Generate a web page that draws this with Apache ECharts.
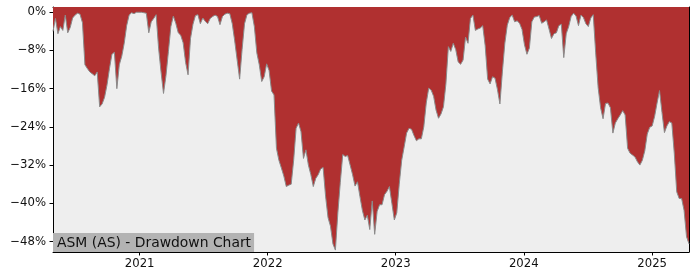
<!DOCTYPE html>
<html><head><meta charset="utf-8">
<script src="https://cdn.jsdelivr.net/npm/echarts@6/dist/echarts.min.js"></script>
<style>html,body{margin:0;padding:0;background:#fff}#c{width:700px;height:280px}</style>
</head><body><div id="c"></div>
<script>
// Weekly drawdown (%), starting 2020-04-29
const startDate = '2020-04-29';
const stepDays = 7;
const drawdown = [
-4.0,-1.3,-4.5,-3.0,-3.8,-0.6,-4.3,-3.2,-1.2,-0.6,
-0.2,-0.4,-2.2,-11.0,-11.8,-12.5,-12.9,-13.3,-12.5,-19.8,
-19.2,-17.8,-15.2,-11.8,-8.8,-8.4,-16.0,-11.0,-9.2,-6.5,
-2.8,-0.6,-0.1,-0.3,0,0,0,-0.1,-0.2,-4.3,
-2.0,-1.3,-0.5,-7.5,-12.5,-17.0,-13.3,-8.2,-3.0,-0.8,
-2.3,-4.3,-4.8,-6.4,-10.5,-13.1,-5.5,-2.5,-0.7,-0.5,
-2.4,-1.2,-1.9,-2.4,-1.3,-0.9,-0.6,-0.9,-2.6,-0.9,
-0.4,-0.2,-0.3,-2.4,-6.0,-10.0,-14.0,-7.8,-2.4,-0.5,
-0.2,-0.1,-3.0,-8.5,-11.0,-14.5,-13.5,-10.8,-12.2,-16.5,
-17.3,-28.5,-31.0,-32.6,-34.3,-36.5,-36.2,-36.0,-31.0,-24.3,
-23.2,-25.0,-30.6,-28.8,-32.0,-34.0,-36.5,-34.8,-34.0,-32.8,
-32.5,-38.5,-43.0,-44.8,-48.5,-49.8,-42.0,-35.6,-29.8,-30.2,
-30.0,-32.0,-34.0,-36.4,-35.5,-38.6,-41.5,-43.5,-42.5,-45.5,
-39.5,-46.5,-41.7,-40.3,-40.3,-38.2,-37.5,-36.5,-40.0,-43.5,
-42.0,-36.0,-31.0,-28.2,-25.3,-24.3,-24.5,-25.8,-26.9,-26.5,
-26.5,-24.0,-19.0,-15.9,-16.3,-17.6,-20.5,-22.2,-21.3,-19.8,
-15.0,-7.2,-8.2,-6.5,-7.8,-10.4,-10.9,-10.0,-5.2,-6.5,
-1.3,-0.6,-3.8,-3.5,-3.3,-2.8,-7.0,-14.0,-15.0,-13.5,
-13.8,-16.2,-19.2,-12.5,-6.5,-2.7,-1.1,-0.6,-2.0,-1.8,
-2.3,-3.6,-6.8,-8.8,-7.5,-2.0,-1.0,-0.9,-0.7,-2.3,
-2.0,-1.6,-3.5,-5.5,-4.5,-4.3,-2.8,-2.5,-9.5,-4.5,
-3.0,-0.9,-0.2,-0.8,-2.8,-0.6,-1.1,-2.4,-3.0,-1.2,
-0.5,-8.5,-15.8,-20.0,-22.3,-19.1,-19.0,-20.0,-25.3,-23.2,
-22.3,-21.5,-20.6,-21.5,-28.5,-29.5,-29.9,-30.3,-31.3,-32.0,
-31.0,-29.0,-25.5,-24.1,-23.8,-21.8,-19.0,-16.4,-21.0,-25.2,
-23.8,-22.9,-23.2,-29.5,-37.6,-39.0,-39.0,-41.5,-47.0,-48.5
];
const yTicks = [0,-8,-16,-24,-32,-40,-48];
const yearTicks = ['2021-01-01','2022-01-01','2023-01-01','2024-01-01','2025-01-01'];
const titleText = 'ASM (AS) - Drawdown Chart';

const DAY = 86400000;
const t0 = Date.parse(startDate + 'T00:00:00Z');
const seriesData = drawdown.map((v, i) => [t0 + i * stepDays * DAY, v]);
const xMin = seriesData[0][0];
const xMax = seriesData[seriesData.length - 1][0];
const yearVals = yearTicks.map(d => Date.parse(d + 'T00:00:00Z'));
const yMin = -50.2, yMax = 1.1;
const font = 'DejaVu Sans';

const chart = echarts.init(document.getElementById('c'), null, {renderer: 'canvas'});
chart.setOption({
  animation: false,
  backgroundColor: '#ffffff',
  title: {
    text: titleText,
    left: 53, bottom: 28,
    backgroundColor: '#b3b3b3',
    padding: [3, 3, 2, 4],
    textStyle: {fontFamily: font, fontSize: 13.9, fontWeight: 'normal', color: '#111', lineHeight: 14}
  },
  grid: {left: 53, right: 11, top: 7, bottom: 28, show: true, backgroundColor: '#eeeeee', borderWidth: 0, outerBoundsMode: 'none', containLabel: false},
  xAxis: [{
    type: 'value', min: xMin, max: xMax, position: 'bottom',
    axisLine: {show: true, onZero: false, lineStyle: {color: '#000', width: 1}},
    axisTick: {show: true, length: 3.5, lineStyle: {color: '#000'}, customValues: yearVals},
    axisLabel: {show: true, customValues: yearVals, fontFamily: font, fontSize: 11.7, color: '#111', margin: 6,
      formatter: v => String(new Date(v).getUTCFullYear())},
    splitLine: {show: false}
  }, {
    type: 'value', min: xMin, max: xMax, position: 'top',
    axisLine: {show: true, onZero: false, lineStyle: {color: '#000', width: 1}},
    axisTick: {show: false}, axisLabel: {show: false}, splitLine: {show: false}
  }],
  yAxis: [{
    type: 'value', min: yMin, max: yMax, position: 'left',
    axisLine: {show: true, onZero: false, lineStyle: {color: '#000', width: 1}},
    axisTick: {show: true, length: 3.5, lineStyle: {color: '#000'}, customValues: yTicks},
    axisLabel: {show: true, customValues: yTicks, fontFamily: font, fontSize: 11.7, color: '#111', margin: 7,
      formatter: v => (v === 0 ? '0%' : '\u2212' + Math.abs(v) + '%')},
    splitLine: {show: false}
  }, {
    type: 'value', min: yMin, max: yMax, position: 'right',
    axisLine: {show: true, onZero: false, lineStyle: {color: '#000', width: 1}},
    axisTick: {show: false}, axisLabel: {show: false}, splitLine: {show: false}
  }],
  series: [{
    type: 'line',
    data: seriesData,
    xAxisIndex: 0, yAxisIndex: 0,
    showSymbol: false, symbol: 'none',
    lineStyle: {color: '#8a8a8a', width: 1},
    areaStyle: {color: '#b03030', opacity: 1, origin: 'end'},
    z: 1
  }]
});
</script></body></html>
